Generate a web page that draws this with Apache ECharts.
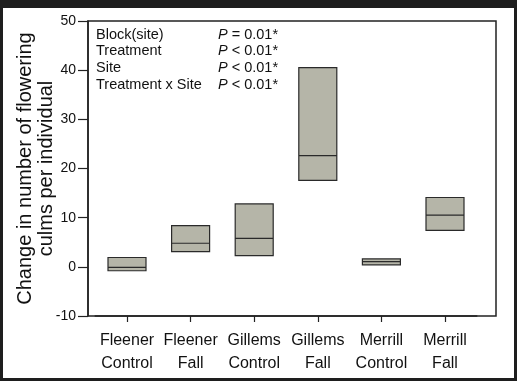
<!DOCTYPE html>
<html>
<head>
<meta charset="utf-8">
<script src="https://cdn.jsdelivr.net/npm/echarts@6/dist/echarts.min.js"></script>
<style>
  html, body { margin: 0; padding: 0; background: #1e1e1e; width: 517px; height: 381px; overflow: hidden; }
  #main { position: absolute; left: 3px; top: 8px; width: 511px; height: 370px; background: #fff; }
</style>
</head>
<body>
<div id="main"></div>
<script>
// categories (two-line labels)
var groups = ['Fleener\nControl', 'Fleener\nFall', 'Gillems\nControl', 'Gillems\nFall', 'Merrill\nControl', 'Merrill\nFall'];
// box bottom, median, top
var boxLow  = [-0.8, 3.1, 2.3, 17.6, 0.4, 7.4];
var boxMed  = [-0.1, 4.8, 5.8, 22.6, 1.05, 10.5];
var boxHigh = [1.9, 8.4, 12.8, 40.5, 1.6, 14.1];
// anova table
var effects = ['Block(site)', 'Treatment', 'Site', 'Treatment x Site'];
var pTexts = ['= 0.01*', '< 0.01*', '< 0.01*', '< 0.01*'];

var font = 'Liberation Sans, Arial, Helvetica, sans-serif';
var chart = echarts.init(document.getElementById('main'));

var boxData = [];
for (var i = 0; i < groups.length; i++) {
  // no whiskers: min = Q1, max = Q3
  boxData.push([boxLow[i], boxLow[i], boxMed[i], boxHigh[i], boxHigh[i]]);
}

var annot = [];
for (var k = 0; k < effects.length; k++) {
  annot.push({
    type: 'text', left: 93, top: 19 + k * 16.7,
    style: { text: effects[k], font: '14.5px ' + font, fill: '#111' }
  });
  annot.push({
    type: 'text', left: 215, top: 19 + k * 16.7,
    style: {
      text: '{i|P} ' + pTexts[k],
      rich: { i: { fontStyle: 'italic', fontSize: 14.5, fontFamily: font, fill: '#111' } },
      font: '14.5px ' + font, fill: '#111'
    }
  });
}

var option = {
  animation: false,
  textStyle: { fontFamily: font },
  grid: [
    { left: 85, top: 13, right: 18, bottom: 62, outerBoundsMode: 'none', show: true, borderColor: '#222', borderWidth: 1.5, backgroundColor: 'transparent', z: 0 },
    { left: 92.2, top: 13, width: 381.6, bottom: 62, outerBoundsMode: 'none', z: 0 }
  ],
  xAxis: [
    { gridIndex: 0, type: 'value', min: 0, max: 1, show: false },
    {
      gridIndex: 1, type: 'category', data: groups, position: 'bottom', z: 10,
      axisLine: { show: true, onZero: false, lineStyle: { color: '#222', width: 1.5 } },
      axisTick: { show: true, interval: 0, alignWithLabel: true, length: 6, inside: false, lineStyle: { color: '#222', width: 1.2 } },
      axisLabel: { color: '#111', fontSize: 16, lineHeight: 23, margin: 13, interval: 0 }
    }
  ],
  yAxis: [
    {
      gridIndex: 0, type: 'value', min: -10, max: 50, interval: 10, z: 10,
      name: 'Change in number of flowering\nculms per individual',
      nameLocation: 'middle', nameGap: 31, nameMoveOverlap: false,
      nameTextStyle: { fontSize: 20, color: '#111', lineHeight: 21 },
      axisLine: { show: true, lineStyle: { color: '#222', width: 1.5 } },
      axisTick: { show: true, length: 10, lineStyle: { color: '#222', width: 1.2 } },
      axisLabel: { color: '#111', fontSize: 14, margin: 12 },
      splitLine: { show: false }
    },
    { gridIndex: 1, type: 'value', min: -10, max: 50, show: false }
  ],
  series: [{
    type: 'boxplot',
    xAxisIndex: 1, yAxisIndex: 1,
    boxWidth: [38, 38],
    data: boxData,
    itemStyle: { color: '#b5b5a8', borderColor: '#2a2a2a', borderWidth: 1.2 }
  }],
  graphic: annot
};
chart.setOption(option);
</script>
</body>
</html>
